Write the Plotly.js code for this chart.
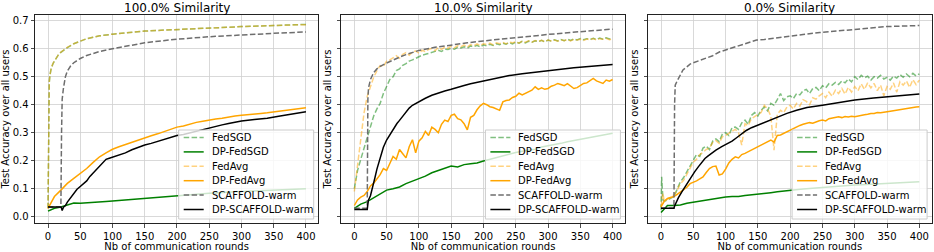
<!DOCTYPE html>
<html>
<head>
<meta charset="utf-8">
<script src="https://cdn.plot.ly/plotly-3.0.1.min.js"></script>
<style>html,body{margin:0;padding:0;background:#fff;}#chart{width:934px;height:252px;}</style>
</head>
<body>
<div id="chart"></div>
<script>
// ---------------- DATA ----------------
const PANEL_TITLES = ["100.0% Similarity", "10.0% Similarity", "0.0% Similarity"];
const SERIES_NAMES = ["FedSGD", "DP-FedSGD", "FedAvg", "DP-FedAvg", "SCAFFOLD-warm", "DP-SCAFFOLD-warm"];
const X_TICKS = [0, 50, 100, 150, 200, 250, 300, 350, 400];
const Y_TICKS = [0.0, 0.1, 0.2, 0.3, 0.4, 0.5, 0.6, 0.7];

const ROUNDS_10 = [0,10,20,30,40,50,60,70,80,90,100,110,120,130,140,150,160,170,180,190,200,210,220,230,240,250,260,270,280,290,300,310,320,330,340,350,360,370,380,390,400];
const ROUNDS_5 = [0,5,10,15,20,25,30,35,40,45,50,55,60,65,70,75,80,85,90,95,100,105,110,115,120,125,130,135,140,145,150,155,160,165,170,175,180,185,190,195,200,205,210,215,220,225,230,235,240,245,250,255,260,265,270,275,280,285,290,295,300,305,310,315,320,325,330,335,340,345,350,355,360,365,370,375,380,385,390,395,400];

// ---- 100% similarity ----
const X_FED_100 = [0,1,2,3,5,8,12,16,20,25,30,40,50,60,70,80,100,125,150,175,200,250,300,350,400];
const FEDSGD_100 = [0.030,0.400,0.480,0.505,0.530,0.548,0.565,0.578,0.587,0.597,0.604,0.618,0.628,0.636,0.641,0.646,0.652,0.658,0.663,0.666,0.669,0.674,0.679,0.683,0.687];
const FEDAVG_100 = [0.030,0.405,0.482,0.506,0.531,0.549,0.566,0.578,0.588,0.597,0.605,0.618,0.628,0.636,0.641,0.646,0.652,0.658,0.663,0.666,0.669,0.674,0.679,0.683,0.686];
const X_SCAF_100 = [0,10,20,21,22,24,27,30,35,40,50,60,70,80,100,125,150,175,200,250,300,350,400];
const SCAF_100 = [0.035,0.035,0.035,0.300,0.420,0.460,0.500,0.520,0.538,0.550,0.565,0.576,0.584,0.590,0.600,0.611,0.621,0.628,0.634,0.643,0.650,0.655,0.660];
const DP_FEDAVG_100 = [0.030,0.072,0.095,0.119,0.137,0.155,0.172,0.194,0.214,0.228,0.241,0.250,0.258,0.267,0.274,0.281,0.289,0.296,0.304,0.312,0.320,0.324,0.331,0.337,0.341,0.346,0.349,0.352,0.357,0.360,0.362,0.365,0.367,0.369,0.371,0.374,0.377,0.380,0.383,0.386,0.389];
const X_DPSCAF_100 = [0,10,20,21,22,24,27,30,35,40,45,50,55,60,65,70,75,80,85,90,95,100,110,120,130,140,150,160,170,180,190,200,210,220,230,240,250,260,270,280,290,300,320,340,360,380,400];
const DP_SCAF_100 = [0.035,0.035,0.035,0.030,0.022,0.034,0.040,0.052,0.068,0.086,0.098,0.108,0.118,0.128,0.144,0.156,0.171,0.181,0.194,0.205,0.209,0.213,0.221,0.228,0.239,0.248,0.256,0.262,0.269,0.276,0.283,0.290,0.294,0.300,0.305,0.311,0.317,0.322,0.328,0.333,0.338,0.342,0.347,0.352,0.360,0.367,0.375];
const DP_FEDSGD_100 = [0.020,0.030,0.035,0.041,0.049,0.048,0.049,0.051,0.052,0.054,0.056,0.058,0.059,0.061,0.063,0.065,0.066,0.069,0.071,0.072,0.075,0.077,0.078,0.080,0.082,0.084,0.085,0.087,0.088,0.089,0.090,0.091,0.092,0.093,0.094,0.095,0.096,0.097,0.098,0.099,0.100];

// ---- 10% similarity ----
const FEDSGD_10 = [0.100,0.165,0.205,0.245,0.280,0.325,0.360,0.385,0.405,0.440,0.465,0.490,0.500,0.522,0.528,0.541,0.547,0.556,0.560,0.566,0.570,0.577,0.580,0.584,0.586,0.591,0.594,0.590,0.598,0.597,0.601,0.598,0.605,0.603,0.607,0.602,0.610,0.607,0.612,0.606,0.614,0.610,0.616,0.612,0.618,0.614,0.620,0.616,0.622,0.617,0.624,0.620,0.626,0.621,0.627,0.623,0.628,0.625,0.630,0.624,0.631,0.627,0.632,0.628,0.633,0.629,0.634,0.630,0.635,0.631,0.636,0.632,0.636,0.633,0.637,0.633,0.638,0.634,0.639,0.635,0.638];
const FEDAVG_10 = [0.090,0.190,0.285,0.370,0.430,0.468,0.498,0.522,0.540,0.536,0.556,0.560,0.569,0.575,0.566,0.580,0.586,0.577,0.588,0.592,0.584,0.595,0.589,0.598,0.601,0.593,0.604,0.598,0.606,0.601,0.609,0.603,0.611,0.607,0.613,0.606,0.615,0.611,0.617,0.611,0.618,0.615,0.620,0.614,0.621,0.618,0.623,0.617,0.624,0.621,0.625,0.620,0.627,0.623,0.628,0.623,0.629,0.626,0.630,0.625,0.631,0.628,0.631,0.627,0.632,0.629,0.633,0.628,0.634,0.631,0.634,0.630,0.635,0.632,0.636,0.631,0.636,0.634,0.637,0.632,0.636];
const X_SCAF_10 = [0,10,20,21,22,25,30,35,40,50,60,70,80,90,100,125,150,175,200,250,300,350,400];
const SCAF_10 = [0.030,0.030,0.030,0.420,0.460,0.490,0.515,0.528,0.537,0.549,0.560,0.570,0.579,0.587,0.594,0.605,0.614,0.621,0.628,0.640,0.651,0.661,0.670];
const X_DPSCAF_10 = [0,10,20,21,22,25,29,32,35,40,45,50,55,60,66,70,75,80,85,90,95,100,110,120,130,140,150,160,170,180,190,200,220,240,260,280,300,320,340,360,380,400];
const DP_SCAF_10 = [0.026,0.026,0.026,0.045,0.060,0.075,0.107,0.140,0.170,0.214,0.248,0.274,0.293,0.310,0.333,0.344,0.360,0.376,0.388,0.398,0.405,0.412,0.423,0.434,0.442,0.449,0.455,0.463,0.469,0.475,0.480,0.484,0.494,0.504,0.511,0.517,0.522,0.527,0.532,0.536,0.540,0.544];
const DP_FEDAVG_10 = [0.040,0.060,0.070,0.076,0.090,0.110,0.120,0.135,0.150,0.172,0.165,0.190,0.215,0.205,0.240,0.225,0.210,0.250,0.275,0.228,0.270,0.282,0.305,0.290,0.320,0.312,0.300,0.330,0.345,0.340,0.362,0.366,0.350,0.346,0.332,0.310,0.355,0.362,0.382,0.396,0.405,0.400,0.393,0.390,0.385,0.380,0.410,0.415,0.417,0.426,0.430,0.441,0.435,0.440,0.446,0.452,0.464,0.455,0.460,0.455,0.458,0.466,0.470,0.476,0.472,0.468,0.475,0.465,0.458,0.461,0.470,0.476,0.478,0.486,0.494,0.485,0.480,0.476,0.488,0.484,0.490];
const DP_FEDSGD_10 = [0.030,0.045,0.054,0.068,0.083,0.095,0.100,0.106,0.118,0.127,0.137,0.145,0.157,0.165,0.172,0.181,0.178,0.186,0.189,0.192,0.199,0.205,0.212,0.218,0.225,0.229,0.234,0.238,0.241,0.249,0.253,0.258,0.262,0.268,0.272,0.277,0.281,0.285,0.289,0.294,0.298];

// ---- 0% similarity ----
const X_NOISY_0 = [0,1,3,5,10,15,20,25,30,35,40,45,50,55,60,65,70,75,80,85,90,95,100,105,110,115,120,125,130,135,140,145,150,155,160,165,170,175,180,185,190,195,200,205,210,215,220,225,230,235,240,245,250,255,260,265,270,275,280,285,290,295,300,305,310,315,320,325,330,335,340,345,350,355,360,365,370,375,380,385,390,395,400];
const FEDSGD_0 = [0.025,0.143,0.060,0.055,0.060,0.066,0.072,0.098,0.125,0.140,0.160,0.185,0.200,0.222,0.215,0.245,0.252,0.240,0.270,0.278,0.268,0.295,0.300,0.290,0.318,0.320,0.312,0.335,0.345,0.330,0.362,0.372,0.360,0.380,0.392,0.378,0.405,0.398,0.418,0.440,0.415,0.428,0.432,0.422,0.440,0.435,0.450,0.455,0.440,0.458,0.462,0.450,0.468,0.460,0.475,0.470,0.480,0.472,0.485,0.478,0.492,0.482,0.500,0.490,0.505,0.496,0.502,0.488,0.500,0.495,0.505,0.492,0.498,0.488,0.502,0.495,0.508,0.498,0.510,0.500,0.512,0.503,0.510];
const FEDAVG_0 = [0.035,0.050,0.083,0.055,0.062,0.070,0.078,0.095,0.118,0.130,0.150,0.172,0.195,0.205,0.222,0.230,0.240,0.245,0.265,0.272,0.262,0.285,0.290,0.298,0.305,0.312,0.300,0.256,0.332,0.325,0.350,0.358,0.365,0.372,0.398,0.385,0.360,0.238,0.365,0.380,0.372,0.392,0.398,0.385,0.405,0.395,0.418,0.412,0.400,0.425,0.420,0.432,0.440,0.425,0.445,0.430,0.452,0.440,0.458,0.438,0.462,0.445,0.465,0.450,0.475,0.455,0.478,0.460,0.476,0.450,0.470,0.432,0.465,0.455,0.478,0.445,0.482,0.470,0.485,0.462,0.490,0.472,0.488];
const X_SCAF_0 = [0,10,20,21,22,25,27,30,34,40,45,50,55,60,70,76,80,91,100,107,120,133,148,160,175,194,220,246,275,297,325,349,375,400];
const SCAF_0 = [0.030,0.030,0.030,0.400,0.470,0.485,0.494,0.505,0.524,0.535,0.545,0.550,0.554,0.560,0.566,0.571,0.575,0.589,0.596,0.601,0.611,0.619,0.631,0.633,0.638,0.643,0.651,0.658,0.663,0.667,0.674,0.679,0.681,0.683];
const X_DPSCAF_0 = [0,10,20,21,24,27,32,37,42,47,52,58,63,68,73,78,85,94,102,110,117,125,132,140,153,163,174,185,195,210,226,250,277,300,329,355,380,400];
const DP_SCAF_0 = [0.030,0.030,0.030,0.038,0.055,0.068,0.088,0.107,0.125,0.143,0.160,0.179,0.193,0.208,0.217,0.226,0.238,0.250,0.260,0.270,0.282,0.297,0.308,0.318,0.330,0.340,0.350,0.360,0.369,0.380,0.390,0.398,0.408,0.417,0.424,0.430,0.434,0.438];
const DP_FEDAVG_0 = [0.035,0.055,0.065,0.068,0.072,0.080,0.088,0.098,0.105,0.118,0.122,0.128,0.135,0.142,0.158,0.172,0.179,0.181,0.149,0.153,0.170,0.192,0.205,0.214,0.210,0.222,0.226,0.232,0.238,0.244,0.250,0.258,0.262,0.270,0.274,0.266,0.290,0.292,0.298,0.302,0.310,0.315,0.320,0.326,0.330,0.333,0.336,0.334,0.340,0.343,0.345,0.342,0.350,0.352,0.355,0.357,0.354,0.358,0.356,0.359,0.357,0.360,0.362,0.364,0.366,0.369,0.369,0.372,0.371,0.374,0.375,0.377,0.379,0.382,0.383,0.386,0.387,0.389,0.390,0.392,0.393];
const DP_FEDSGD_0 = [0.015,0.040,0.040,0.042,0.048,0.052,0.054,0.060,0.062,0.066,0.070,0.072,0.072,0.076,0.078,0.080,0.083,0.086,0.089,0.092,0.095,0.097,0.099,0.101,0.103,0.104,0.106,0.108,0.110,0.111,0.113,0.114,0.115,0.117,0.118,0.119,0.120,0.121,0.122,0.124,0.125];

// ---------------- STYLES ----------------
const W = 934, H = 252;
const FONT = "DejaVu Sans, Liberation Sans, sans-serif";
const DASH = "5.5px,2.4px";
const STYLES = [
  {color: "rgba(0,128,0,0.5)", dash: DASH},       // FedSGD
  {color: "#008000", dash: "solid"},              // DP-FedSGD
  {color: "rgba(255,165,0,0.5)", dash: DASH},     // FedAvg
  {color: "#ffa500", dash: "solid"},              // DP-FedAvg
  {color: "#6e6e6e", dash: DASH},                 // SCAFFOLD-warm
  {color: "#000000", dash: "solid"}               // DP-SCAFFOLD-warm
];

const PANELS = [
  { series: [[X_FED_100, FEDSGD_100], [ROUNDS_10, DP_FEDSGD_100], [X_FED_100, FEDAVG_100], [ROUNDS_10, DP_FEDAVG_100], [X_SCAF_100, SCAF_100], [X_DPSCAF_100, DP_SCAF_100]] },
  { series: [[ROUNDS_5, FEDSGD_10], [ROUNDS_10, DP_FEDSGD_10], [ROUNDS_5, FEDAVG_10], [ROUNDS_5, DP_FEDAVG_10], [X_SCAF_10, SCAF_10], [X_DPSCAF_10, DP_SCAF_10]] },
  { series: [[X_NOISY_0, FEDSGD_0], [ROUNDS_10, DP_FEDSGD_0], [X_NOISY_0, FEDAVG_0], [ROUNDS_5, DP_FEDAVG_0], [X_SCAF_0, SCAF_0], [X_DPSCAF_0, DP_SCAF_0]] }
];

// pixel boxes of the three axes (left, right), shared top/bottom
const BOX_X = [[35.1, 318.2], [341.4, 624.9], [648.1, 931.6]];
const BOX_TOP = 15, BOX_BOTTOM = 223;

const traces = [];
const layout = {
  width: W, height: H,
  margin: {l: 0, r: 0, t: 0, b: 0, pad: 0},
  paper_bgcolor: "#ffffff", plot_bgcolor: "#ffffff",
  font: {family: FONT, size: 10, color: "#000"},
  showlegend: false,
  shapes: [], annotations: []
};

const px = v => v / W;
const py = v => 1 - v / H;

PANELS.forEach((p, i) => {
  const xa = i === 0 ? "x" : "x" + (i + 1);
  const ya = i === 0 ? "y" : "y" + (i + 1);
  p.series.forEach((s, k) => {
    traces.push({
      type: "scatter", mode: "lines", x: s[0], y: s[1], name: SERIES_NAMES[k],
      xaxis: xa, yaxis: ya,
      line: {color: STYLES[k].color, dash: STYLES[k].dash, width: 1.5},
      hoverinfo: "skip"
    });
  });
  const xKey = i === 0 ? "xaxis" : "xaxis" + (i + 1);
  const yKey = i === 0 ? "yaxis" : "yaxis" + (i + 1);
  layout[xKey] = {
    domain: [px(BOX_X[i][0]), px(BOX_X[i][1])], anchor: ya,
    range: [-20, 419], tickvals: X_TICKS, ticktext: X_TICKS.map(String),
    showline: true, mirror: true, linecolor: "#222", linewidth: 1,
    ticks: "outside", ticklen: 3.5, tickcolor: "#222", tickwidth: 0.8,
    showgrid: true, gridcolor: "#d0d0d0", gridwidth: 0.8, zeroline: false,
    tickfont: {family: FONT, size: 10, color: "#000"},
    title: {text: "Nb of communication rounds", font: {family: FONT, size: 10, color: "#000"}, standoff: 2}
  };
  layout[yKey] = {
    domain: [py(BOX_BOTTOM), py(BOX_TOP)], anchor: xa,
    range: [-0.0225, 0.7205], tickvals: Y_TICKS, ticktext: Y_TICKS.map(v => v.toFixed(1)),
    showticklabels: i === 0,
    showline: true, mirror: true, linecolor: "#222", linewidth: 1,
    ticks: "outside", ticklen: 3.5, tickcolor: "#222", tickwidth: 0.8,
    showgrid: true, gridcolor: "#d0d0d0", gridwidth: 0.8, zeroline: false,
    tickfont: {family: FONT, size: 10, color: "#000"},
    title: {text: "Test Accuracy over all users", font: {family: FONT, size: 10, color: "#000"}, standoff: 3}
  };
  if (i > 0) layout[yKey].matches = "y";

  // panel title
  layout.annotations.push({
    text: PANEL_TITLES[i], xref: "paper", yref: "paper",
    x: px((BOX_X[i][0] + BOX_X[i][1]) / 2), y: py(7.5), xanchor: "center", yanchor: "middle",
    showarrow: false, font: {family: FONT, size: 12, color: "#000"}
  });

  // legend (drawn as box + line samples + text)
  const right = BOX_X[i][1] - 4.5, bottom = BOX_BOTTOM - 4, lw = 135, lh = 89;
  const left = right - lw, top = bottom - lh;
  layout.shapes.push({
    type: "rect", xref: "paper", yref: "paper",
    x0: px(left), x1: px(right), y0: py(bottom), y1: py(top),
    fillcolor: "rgba(255,255,255,0.8)", line: {color: "#cccccc", width: 1}, layer: "above"
  });
  SERIES_NAMES.forEach((name, k) => {
    const yy = top + 7.5 + k * 14.4;
    layout.shapes.push({
      type: "line", xref: "paper", yref: "paper",
      x0: px(left + 5), x1: px(left + 25), y0: py(yy), y1: py(yy),
      line: {color: STYLES[k].color, dash: STYLES[k].dash, width: 1.5}, layer: "above"
    });
    layout.annotations.push({
      text: name, xref: "paper", yref: "paper",
      x: px(left + 31), y: py(yy), xanchor: "left", yanchor: "middle",
      showarrow: false, font: {family: FONT, size: 10, color: "#000"}
    });
  });
});

Plotly.newPlot("chart", traces, layout, {staticPlot: true, displayModeBar: false});
</script>
</body>
</html>
